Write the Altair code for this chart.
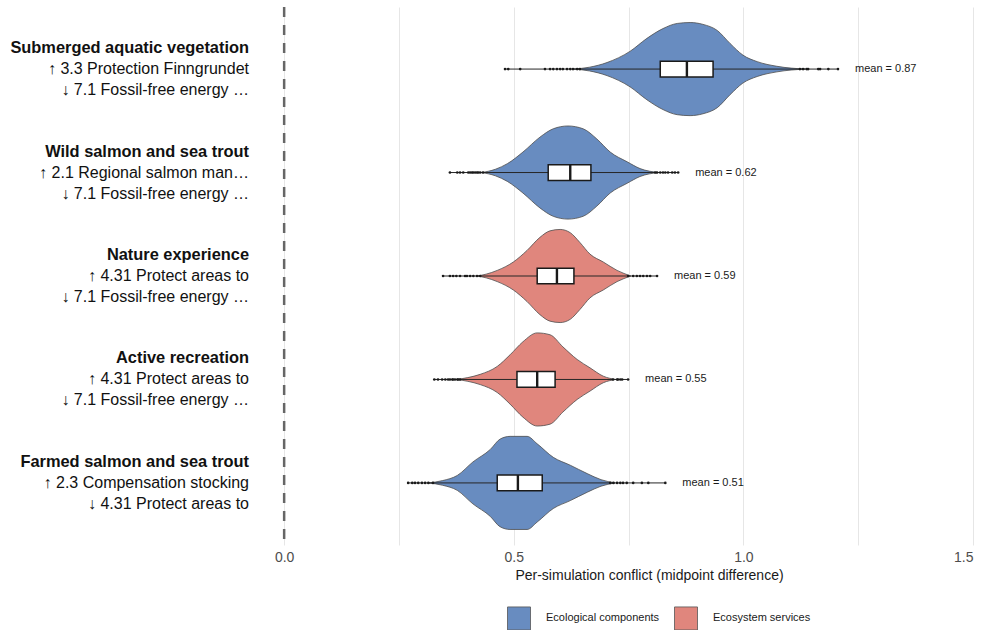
import altair as alt
import pandas as pd

# ---------------- data ----------------
components = [
    "Submerged aquatic vegetation",
    "Wild salmon and sea trout",
    "Nature experience",
    "Active recreation",
    "Farmed salmon and sea trout",
]
groups = [
    "Ecological components",
    "Ecological components",
    "Ecosystem services",
    "Ecosystem services",
    "Ecological components",
]
up_actions = [
    "↑ 3.3 Protection Finngrundet",
    "↑ 2.1 Regional salmon man…",
    "↑ 4.31 Protect areas to",
    "↑ 4.31 Protect areas to",
    "↑ 2.3 Compensation stocking",
]
down_actions = [
    "↓ 7.1 Fossil-free energy …",
    "↓ 7.1 Fossil-free energy …",
    "↓ 7.1 Fossil-free energy …",
    "↓ 7.1 Fossil-free energy …",
    "↓ 4.31 Protect areas to",
]

means = [0.87, 0.62, 0.59, 0.55, 0.51]
q1 = [0.819, 0.575, 0.551, 0.507, 0.464]
medians = [0.877, 0.623, 0.594, 0.551, 0.509]
q3 = [0.934, 0.668, 0.631, 0.590, 0.562]
sim_min = [0.481, 0.361, 0.346, 0.327, 0.270]
sim_max = [1.206, 0.858, 0.812, 0.749, 0.830]

# violin outlines: conflict value and relative density (1 = widest point)
profile_x = [
    [0.630, 0.665, 0.703, 0.753, 0.790, 0.825, 0.856, 0.884, 0.912, 0.943, 0.971, 0.999, 1.030, 1.073, 1.135],
    [0.430, 0.460, 0.486, 0.520, 0.557, 0.586, 0.618, 0.651, 0.681, 0.710, 0.747, 0.775, 0.815],
    [0.420, 0.440, 0.464, 0.499, 0.529, 0.557, 0.579, 0.601, 0.623, 0.644, 0.666, 0.695, 0.725, 0.755],
    [0.375, 0.400, 0.427, 0.464, 0.492, 0.520, 0.551, 0.579, 0.607, 0.638, 0.666, 0.695, 0.722],
    [0.315, 0.345, 0.377, 0.411, 0.449, 0.470, 0.492, 0.529, 0.551, 0.586, 0.623, 0.660, 0.690, 0.720],
]
profile_density = [
    [0.0, 0.04, 0.14, 0.38, 0.66, 0.87, 0.98, 1.0, 0.96, 0.83, 0.55, 0.30, 0.16, 0.06, 0.0],
    [0.0, 0.07, 0.19, 0.44, 0.76, 0.94, 1.0, 0.94, 0.72, 0.44, 0.23, 0.085, 0.0],
    [0.0, 0.04, 0.12, 0.30, 0.55, 0.83, 0.97, 1.0, 0.93, 0.72, 0.47, 0.30, 0.12, 0.0],
    [0.0, 0.04, 0.11, 0.28, 0.53, 0.81, 1.0, 0.96, 0.70, 0.43, 0.25, 0.07, 0.0],
    [0.0, 0.05, 0.16, 0.45, 0.72, 0.94, 1.0, 1.0, 0.84, 0.55, 0.38, 0.20, 0.07, 0.0],
]

# individual simulations in the tails
tail_points = [
    [0.481, 0.488, 0.514, 0.568, 0.579, 0.586, 0.594, 0.601, 0.607, 0.616, 0.623, 0.629, 0.638, 0.644,
     1.123, 1.130, 1.138, 1.141, 1.163, 1.167, 1.185, 1.206],
    [0.361, 0.377, 0.383, 0.390, 0.401, 0.405, 0.409, 0.412, 0.416, 0.420, 0.423, 0.427, 0.433,
     0.808, 0.812, 0.819, 0.825, 0.830, 0.836, 0.845, 0.851, 0.858],
    [0.346, 0.361, 0.368, 0.375, 0.383, 0.394, 0.398, 0.405, 0.412, 0.420, 0.427,
     0.749, 0.760, 0.768, 0.775, 0.782, 0.790, 0.797, 0.812],
    [0.327, 0.335, 0.344, 0.351, 0.357, 0.361, 0.366, 0.368, 0.372, 0.377, 0.379, 0.383,
     0.716, 0.725, 0.727, 0.732, 0.736, 0.749],
    [0.270, 0.279, 0.285, 0.292, 0.300, 0.307, 0.314, 0.324,
     0.710, 0.717, 0.725, 0.732, 0.738, 0.746, 0.760, 0.779, 0.793, 0.830],
]

x_breaks = [0.0, 0.25, 0.5, 0.75, 1.0, 1.25, 1.5]
group_names = ["Ecological components", "Ecosystem services"]
group_colors = ["#688cc0", "#e0867d"]

# ---------------- tables ----------------
rows = list(range(1, len(components) + 1))

violin_df = pd.DataFrame(
    [
        {"row": r, "group": g, "x": x, "d": d}
        for r, g, xs, ds in zip(rows, groups, profile_x, profile_density)
        for x, d in zip(xs, ds)
    ]
)
stats_df = pd.DataFrame(
    {
        "row": rows,
        "group": groups,
        "component": components,
        "up": up_actions,
        "down": down_actions,
        "mean": means,
        "q1": q1,
        "median": medians,
        "q3": q3,
        "lo": sim_min,
        "hi": sim_max,
    }
)
points_df = pd.DataFrame(
    [{"row": r, "x": v} for r, vals in zip(rows, tail_points) for v in vals]
)
zero_df = pd.DataFrame({"x": [0.0]})

# ---------------- encodings ----------------
FONT = "Liberation Sans"
X_TITLE = "Per-simulation conflict (midpoint difference)"

x_scale = alt.Scale(domain=[-0.07, 1.5], nice=False, zero=False)
y_scale = alt.Scale(domain=[0.4, 5.6], reverse=True, nice=False, zero=False)
x_axis = alt.Axis(
    values=x_breaks,
    labelExpr="datum.value % 0.5 == 0 ? format(datum.value, '.1f') : ''",
    grid=True,
    gridColor="#e6e6e6",
    gridWidth=1,
    domain=False,
    ticks=False,
    labelFont=FONT,
    labelFontSize=14,
    labelColor="#4d4d4d",
    labelPadding=5,
    titleFont=FONT,
    titleFontSize=14,
    titleFontWeight="normal",
    titleColor="#1a1a1a",
    titlePadding=4,
    titleX=397,
)


def xq(field):
    return alt.X(f"{field}:Q", scale=x_scale, axis=x_axis, title=X_TITLE)


def yq(field):
    return alt.Y(f"{field}:Q", scale=y_scale, axis=None)


zero_line = alt.Chart(zero_df).mark_rule(
    color="#666666", strokeWidth=2.5, strokeDash=[10, 8]
).encode(x=xq("x"))

violins = (
    alt.Chart(violin_df)
    .transform_calculate(
        y_lo="datum.row - 0.45 * datum.d", y_hi="datum.row + 0.45 * datum.d"
    )
    .mark_area(
        orient="vertical",
        interpolate="monotone",
        stroke="#4d4d4d",
        strokeWidth=0.8,
        fillOpacity=1,
    )
    .encode(
        x=xq("x"),
        y=yq("y_lo"),
        y2="y_hi:Q",
        detail="row:N",
        color=alt.Color(
            "group:N",
            scale=alt.Scale(domain=group_names, range=group_colors),
            legend=alt.Legend(
                title=None,
                orient="none",
                legendX=255,
                legendY=599,
                direction="horizontal",
                symbolType="square",
                symbolSize=529,
                symbolOpacity=1,
                symbolStrokeColor="#555555",
                symbolStrokeWidth=0.8,
                labelFont=FONT,
                labelFontSize=11,
                labelColor="#1a1a1a",
                labelOffset=15,
                columnPadding=12,
                padding=0,
            ),
        ),
    )
)

span = alt.Chart(stats_df).mark_rule(color="#262626", strokeWidth=1).encode(
    x=xq("lo"), x2="hi:Q", y=yq("row")
)

dots = alt.Chart(points_df).mark_circle(size=7, color="#1a1a1a", opacity=1).encode(
    x=xq("x"), y=yq("row")
)

box_base = alt.Chart(stats_df).transform_calculate(
    b_lo="datum.row - 0.076", b_hi="datum.row + 0.076"
)
boxes = box_base.mark_rect(fill="white", stroke="#1a1a1a", strokeWidth=1.5).encode(
    x=xq("q1"), x2="q3:Q", y=yq("b_lo"), y2="b_hi:Q"
)
median_bars = box_base.mark_rule(color="#1a1a1a", strokeWidth=2.4).encode(
    x=xq("median"), y=yq("b_lo"), y2="b_hi:Q"
)

mean_labels = (
    alt.Chart(stats_df)
    .transform_calculate(mean_label="'mean = ' + format(datum.mean, '.2f')")
    .mark_text(align="left", baseline="middle", dx=17, font=FONT, fontSize=11, color="#1a1a1a")
    .encode(x=xq("hi"), y=yq("row"), text="mean_label:N")
)


def row_label(field, dy, weight, size):
    return (
        alt.Chart(stats_df)
        .mark_text(
            align="right",
            baseline="middle",
            dy=dy,
            font=FONT,
            fontSize=size,
            fontWeight=weight,
            color="#111111",
        )
        .encode(x=alt.value(-3), y=yq("row"), text=f"{field}:N")
    )


chart = (
    alt.layer(
        zero_line,
        violins,
        span,
        dots,
        boxes,
        median_bars,
        mean_labels,
        row_label("component", -21, "bold", 16.4),
        row_label("up", 0, "normal", 16),
        row_label("down", 21, "normal", 16),
    )
    .properties(
        width=721,
        height=538,
        padding={"left": 252, "top": 7, "right": 13, "bottom": 85},
        autosize=alt.AutoSizeParams(type="none"),
        background="white",
    )
    .configure_view(stroke=None)
)

chart.save("out.html", embed_options={"renderer": "svg", "actions": False})
